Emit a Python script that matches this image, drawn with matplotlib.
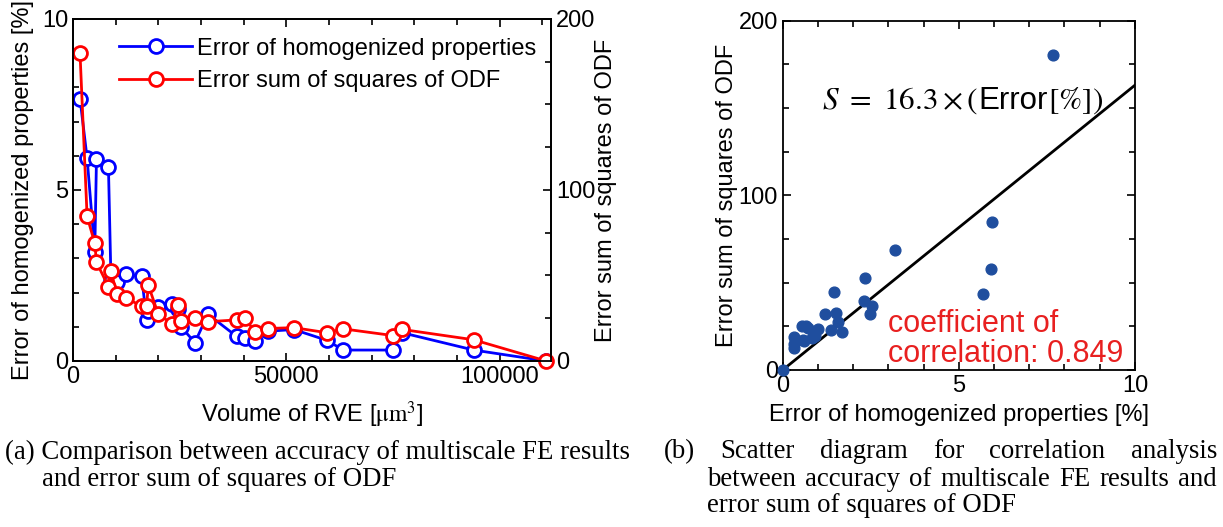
import numpy as np
import matplotlib.pyplot as plt
from matplotlib.ticker import MultipleLocator

plt.rcParams['font.family'] = ['Liberation Sans', 'DejaVu Sans']
plt.rcParams['mathtext.fontset'] = 'stix'

# RVE volume [um^3], error of homogenized properties [%], error sum of squares of ODF
volume = [1640, 3300, 5100, 5500, 8300, 8900, 10230, 12500, 16080, 17250, 17640, 20000,
          23260, 24500, 25300, 28570, 31600, 38330, 40280, 42600, 45600, 51760, 59600,
          63300, 74900, 77000, 93900, 110900]
error = [7.67, 5.93, 3.2, 5.92, 5.68, 2.35, 2.31, 2.53, 2.48, 1.2, 1.47, 1.58,
         1.68, 1.52, 1.0, 0.54, 1.37, 0.72, 0.67, 0.58, 0.87, 0.92, 0.6,
         0.32, 0.32, 0.83, 0.32, 0.0]
odf = [180, 84.6, 68.8, 57.8, 43.4, 52.8, 39.3, 36.7, 32.1, 32.2, 44.4, 27.2,
       21.8, 32.7, 23.5, 25.4, 23.0, 24.0, 25.3, 17.0, 19.0, 19.5, 16.5,
       18.8, 14.9, 18.5, 12.4, 0.0]
slope = 16.3
r_coef = 0.849

FS = 17
W, H = 1223, 527

fig = plt.figure(figsize=(W / 100, H / 100), dpi=100)
renderer = fig.canvas.get_renderer()

def style_ax(a):
    a.tick_params(which='both', direction='in', labelsize=FS, width=1.2)
    a.tick_params(which='major', length=6)
    a.tick_params(which='minor', length=4)
    for s in a.spines.values():
        s.set_linewidth(1.3)

# (a) error and ODF vs RVE volume
ax1 = fig.add_axes([0.0597, 0.315, 0.3908, 0.649])
ax2 = ax1.twinx()
l1, = ax1.plot(volume, error, '-o', color='#0000ff', lw=2, ms=10, mew=2,
               mfc='white', label='Error of homogenized properties')
l2, = ax2.plot(volume, odf, '-o', color='#ff0000', lw=2, ms=10, mew=2,
               mfc='white', label='Error sum of squares of ODF', clip_on=False)
ax2.set_zorder(ax1.get_zorder() + 1)
ax1.set_xlim(0, 112000)
ax1.set_ylim(0, 10)
ax2.set_ylim(0, 200)
ax1.xaxis.set_major_locator(MultipleLocator(50000))
ax1.xaxis.set_minor_locator(MultipleLocator(10000))
ax1.yaxis.set_major_locator(MultipleLocator(5))
ax1.yaxis.set_minor_locator(MultipleLocator(1))
ax2.yaxis.set_major_locator(MultipleLocator(100))
ax2.yaxis.set_minor_locator(MultipleLocator(25))
for a in (ax1, ax2):
    style_ax(a)
ax1.tick_params(which='both', top=True)
ax1.set_xlabel(r'Volume of RVE [$\mathrm{\mu m}^3$]', fontsize=FS, labelpad=8)
ax1.set_ylabel('Error of homogenized properties [%]', fontsize=FS, labelpad=6)
ax2.set_ylabel('Error sum of squares of ODF', fontsize=FS, labelpad=0)
ax1.legend([l1, l2], [l1.get_label(), l2.get_label()], loc='upper left',
           bbox_to_anchor=(0.072, 0.98), frameon=False, fontsize=FS,
           handlelength=3.1, handletextpad=0.2, borderpad=0, labelspacing=0.45)

# (b) scatter of ODF error against homogenized error
ax3 = fig.add_axes([0.640, 0.298, 0.288, 0.663])
ax3.scatter(error, odf, s=60, color='#1f4e9e', zorder=3, clip_on=False)
xf = np.array([0, 10])
ax3.plot(xf, slope * xf, color='black', lw=2)
ax3.set_xlim(0, 10)
ax3.set_ylim(0, 200)
ax3.xaxis.set_major_locator(MultipleLocator(5))
ax3.xaxis.set_minor_locator(MultipleLocator(1))
ax3.yaxis.set_major_locator(MultipleLocator(100))
ax3.yaxis.set_minor_locator(MultipleLocator(25))
style_ax(ax3)
ax3.tick_params(which='both', top=True, right=True)
ax3.set_xlabel('Error of homogenized properties [%]', fontsize=FS, labelpad=5)
ax3.set_ylabel('Error sum of squares of ODF', fontsize=FS, labelpad=0)

# fit equation: serif math with a sans "Error"
eq_parts = [(r'$S\ =\ %.1f\times($' % slope, {}),
            ('Error', {'family': 'Liberation Sans'}),
            (r'$[\%])$', {})]
x = 822
for s, kw in eq_parts:
    t = fig.text(x / W, 1 - 101 / H, s, fontsize=22.5, va='center', **kw)
    x += t.get_window_extent(renderer).width
ax3.text(0.30, 0.088, 'coefficient of\ncorrelation: %.3f' % r_coef,
         transform=ax3.transAxes, fontsize=22, color='#e82020',
         va='center', linespacing=1.0)

# captions
cap = dict(family='Liberation Serif', fontsize=19.3, va='center')
fig.text(5 / W, 1 - 452 / H, '(a) Comparison between accuracy of multiscale FE results', **cap)
fig.text(42 / W, 1 - 479 / H, 'and error sum of squares of ODF', **cap)

def justify(words, x0, x1, y):
    texts = [fig.text(0, 1 - y / H, w, **cap) for w in words]
    widths = [t.get_window_extent(renderer).width for t in texts]
    gap = (x1 - x0 - sum(widths)) / (len(words) - 1)
    x = x0
    for t, w in zip(texts, widths):
        t.set_x(x / W)
        x += w + gap

justify(['(b)', 'Scatter', 'diagram', 'for', 'correlation', 'analysis'], 664, 1217, 452)
justify('between accuracy of multiscale FE results and'.split(), 707, 1217, 479)
fig.text(707 / W, 1 - 505 / H, 'error sum of squares of ODF', **cap)

fig.savefig('out.png', dpi=100)
